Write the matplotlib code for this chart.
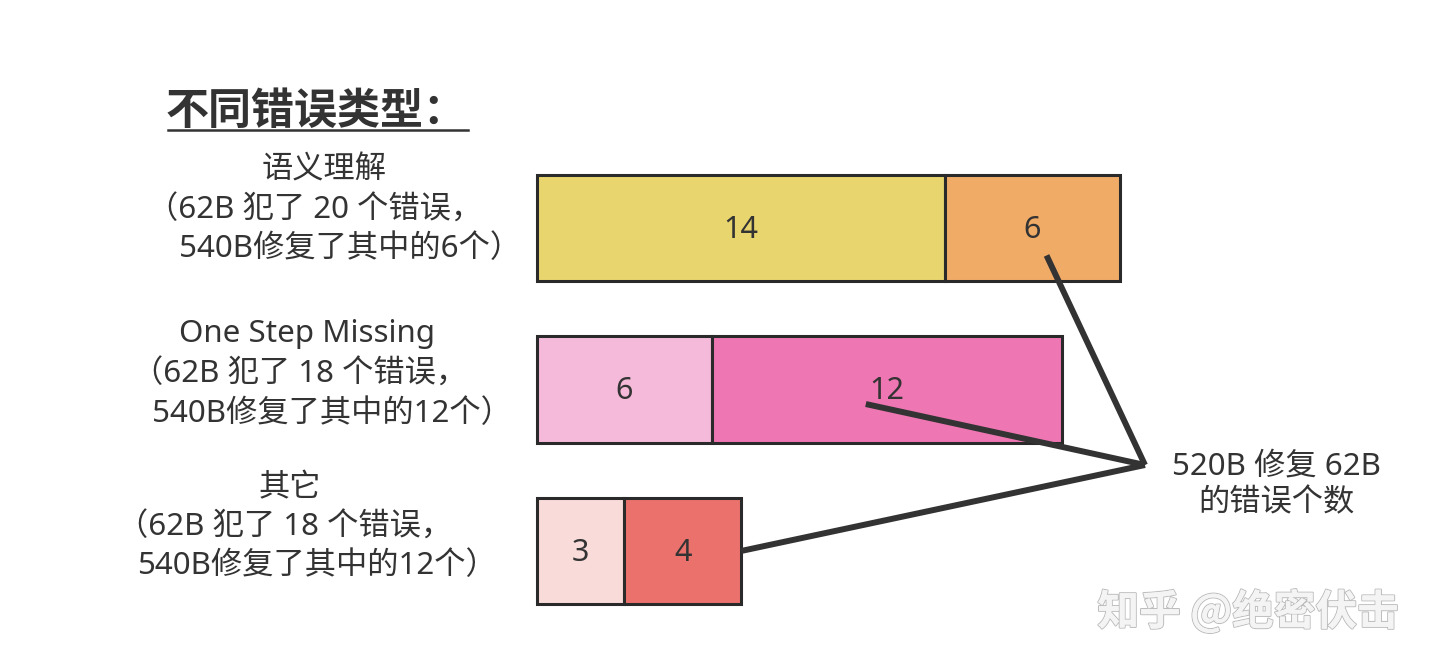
import matplotlib
matplotlib.use("Agg")
import matplotlib.pyplot as plt
from matplotlib.lines import Line2D
import matplotlib.patheffects as pe

plt.rcParams['font.family'] = ['Noto Sans', 'Noto Sans CJK SC', 'DejaVu Sans']

# ---- data ----
categories = ["语义理解", "One Step Missing", "其它"]
not_fixed = [14, 6, 3]      # first segment
fixed = [6, 12, 4]          # second segment (fixed by 540B)
first_colors = ["#E8D56E", "#F5BADA", "#F9DCDA"]
second_colors = ["#F0AB67", "#EE76B3", "#EB716D"]
detail_lines = [
    ["（62B 犯了 20 个错误，", " 540B修复了其中的6个）"],
    ["（62B 犯了 18 个错误，", " 540B修复了其中的12个）"],
    ["（62B 犯了 18 个错误，", "540B修复了其中的12个）"],
]
title = "不同错误类型："
note = "520B 修复 62B\n的错误个数"
watermark = "知乎 @绝密伏击"

W, H = 1440, 672
fig = plt.figure(figsize=(W / 100, H / 100), dpi=100)
fig.patch.set_facecolor("white")

# axes spanning the whole figure; data scale chosen so bars land in place
px_per_unit_x = 29.15
x0_px = 537
px_per_unit_y = 161.5
y0_px = 228
ax = fig.add_axes([0, 0, 1, 1])
ax.set_xlim(-x0_px / px_per_unit_x, (W - x0_px) / px_per_unit_x)
ax.set_ylim(2 + (H - 551) / px_per_unit_y, -y0_px / px_per_unit_y)
ax.axis("off")

ypos = list(range(len(categories)))
bar_h = 0.66
edge = "#2a2a2a"
ax.barh(ypos, not_fixed, height=bar_h, color=first_colors,
        edgecolor=edge, linewidth=2.2, zorder=2)
ax.barh(ypos, fixed, left=not_fixed, height=bar_h, color=second_colors,
        edgecolor=edge, linewidth=2.2, zorder=2)

txt_color = "#333333"
for i in ypos:
    ax.text(not_fixed[i] / 2, i + 0.01, str(not_fixed[i]), ha="center",
            va="center", fontsize=22, color=txt_color, zorder=3)
    ax.text(not_fixed[i] + fixed[i] / 2, i + 0.01, str(fixed[i]), ha="center",
            va="center", fontsize=22, color=txt_color, zorder=3)

# connector lines from the note to the "fixed" segments
anchor = ((1145 - x0_px) / px_per_unit_x, (465 - y0_px) / px_per_unit_y)
targets = [
    (not_fixed[0] + fixed[0] * 0.58, 0 + 0.17),
    (not_fixed[1] + fixed[1] * 0.44, 1 + 0.09),
    (not_fixed[2] + fixed[2], 2),
]
for tx, ty in targets:
    ax.plot([tx, anchor[0]], [ty, anchor[1]], color="#333333", lw=4.3,
            solid_capstyle="butt", zorder=4)

def fx(x):
    return x / W

def fy(y):
    return 1 - y / H

# title with underline
fig.text(fx(166), fy(111), title, fontsize=31, fontweight="bold",
         color=txt_color, ha="left", va="center",
         family=['Noto Sans CJK SC', 'DejaVu Sans'])
fig.add_artist(Line2D([fx(168), fx(468)], [fy(130), fy(130)],
                      color=txt_color, lw=1.8))

# left labels
fs = 22.5
block_y = [(171, 211, 249), (334, 375, 414), (488, 528, 566)]
head_x = [324, 307, 290]
line_x = [(147, 171), (132, 144), (117, 137)]
for i in ypos:
    fig.text(fx(head_x[i]), fy(block_y[i][0]), categories[i], fontsize=fs,
             color=txt_color, ha="center", va="center")
    for j in range(2):
        fig.text(fx(line_x[i][j]), fy(block_y[i][j + 1]), detail_lines[i][j],
                 fontsize=fs, color=txt_color, ha="left", va="center")

# note text
fig.text(fx(1276), fy(485), note, fontsize=fs, color=txt_color,
         ha="center", va="center", linespacing=1.3)

# watermark
fig.text(fx(1248), fy(612), watermark, fontsize=30, color="#f4f4f4",
         ha="center", va="center", fontweight="bold",
         family=['Noto Sans CJK SC', 'DejaVu Sans'],
         path_effects=[pe.withStroke(linewidth=1.5, foreground="#bdbdbd"),
                       pe.Normal()])

fig.savefig("out.png", dpi=100, facecolor="white")
